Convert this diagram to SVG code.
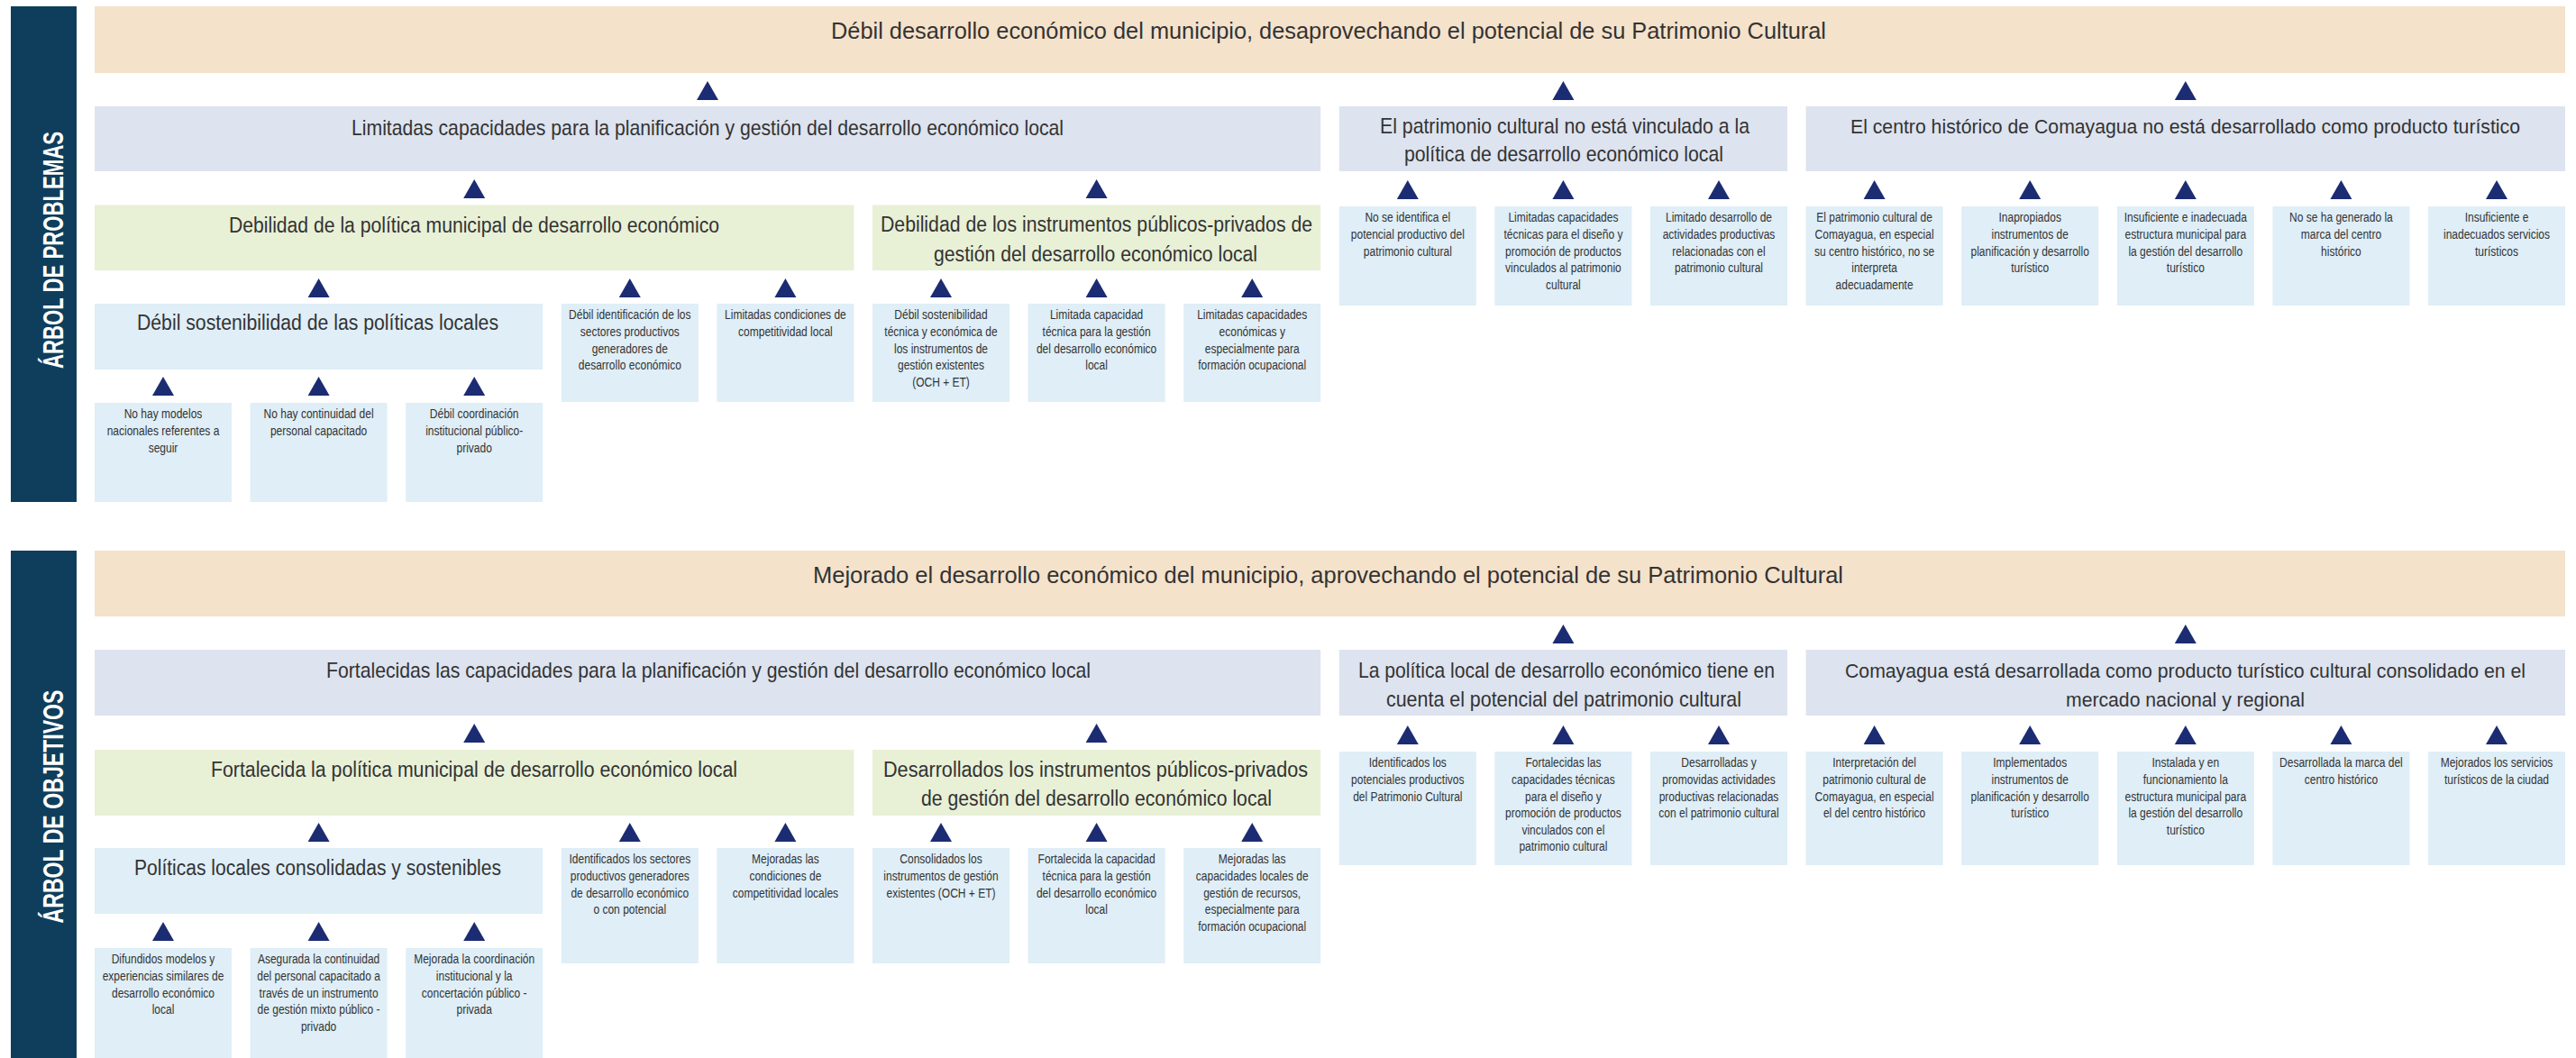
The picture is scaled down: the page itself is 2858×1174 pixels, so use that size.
<svg xmlns="http://www.w3.org/2000/svg" xmlns:xlink="http://www.w3.org/1999/xlink" width="2858" height="1174" viewBox="0 0 2858 1174">
<style>
.bar{fill:#0f3e5c}
.beige{fill:#f5e2cb}
.lav{fill:#dde3ef}
.grn{fill:#e8f0d6}
.blu{fill:#dfeef7}
.t{font-family:'Liberation Sans',Arial,sans-serif;fill:#333333;text-anchor:middle}
.big{font-size:26px}
.mid{font-size:24px}
.m3{font-size:23px}
.m2{font-size:22px}
.sm{font-family:'Liberation Sans',Arial,sans-serif;fill:#333333;font-size:15px;text-anchor:middle}
.lbl{font-family:'Liberation Sans',Arial,sans-serif;font-weight:bold;fill:#ffffff;font-size:31px;text-anchor:middle}
.arr{fill:#1c2c72}
</style>
<defs>
<path id="tri" d="M-12,21 L12,21 L0,0 Z"/>
</defs>
<rect width="2858" height="1174" fill="#ffffff"/>

<!-- ================= PROBLEMS TREE ================= -->
<g id="label-problemas">
<rect class="bar" x="12" y="7" width="73" height="550"/>
<text class="lbl" transform="translate(70,277.5) rotate(-90)" x="0" y="0" textLength="263" lengthAdjust="spacingAndGlyphs">ÁRBOL DE PROBLEMAS</text>
</g>

<g id="p-top">
<rect class="beige" x="105" y="7" width="2741" height="74"/>
<text class="t big" x="1474" y="42.5" textLength="1104" lengthAdjust="spacingAndGlyphs">Débil desarrollo económico del municipio, desaprovechando el potencial de su Patrimonio Cultural</text>
</g>

<g id="p-l2a">
<rect class="lav" x="105" y="118" width="1360.2" height="72"/>
<text class="t mid" x="785" y="150" textLength="790" lengthAdjust="spacingAndGlyphs">Limitadas capacidades para la planificación y gestión del desarrollo económico local</text>
</g>
<g id="p-l2b">
<rect class="lav" x="1485.8" y="118" width="497.2" height="72"/>
<text class="t mid" x="1736" y="148" textLength="410" lengthAdjust="spacingAndGlyphs">El patrimonio cultural no está vinculado a la</text>
<text class="t mid" x="1735" y="179" textLength="354" lengthAdjust="spacingAndGlyphs">política de desarrollo económico local</text>
</g>
<g id="p-l2c">
<rect class="lav" x="2003.6" y="118" width="842.4" height="72"/>
<text class="t m2" x="2424.5" y="148" textLength="743" lengthAdjust="spacingAndGlyphs">El centro histórico de Comayagua no está desarrollado como producto turístico</text>
</g>

<g id="p-l3a">
<rect class="grn" x="105" y="227.5" width="842.4" height="72.5"/>
<text class="t m3" x="526" y="258" textLength="544" lengthAdjust="spacingAndGlyphs">Debilidad de la política municipal de desarrollo económico</text>
</g>
<g id="p-l3b">
<rect class="grn" x="968" y="227.5" width="497.2" height="72.5"/>
<text class="t m3" x="1216.5" y="257" textLength="479" lengthAdjust="spacingAndGlyphs">Debilidad de los instrumentos públicos-privados de</text>
<text class="t m3" x="1215.5" y="290" textLength="359" lengthAdjust="spacingAndGlyphs">gestión del desarrollo económico local</text>
</g>

<g id="p-l4a">
<rect class="blu" x="105" y="337" width="497.2" height="73"/>
<text class="t m3" x="352.5" y="366" textLength="401" lengthAdjust="spacingAndGlyphs">Débil sostenibilidad de las políticas locales</text>
</g>

<g id="p-c3">
<rect class="blu" x="622.8" y="337" width="152" height="109"/>
<g transform="translate(698.8,0) scale(0.8,1)"><text class="sm"><tspan x="0" y="354.5">Débil identificación de los</tspan><tspan x="0" y="373.1">sectores productivos</tspan><tspan x="0" y="391.7">generadores de</tspan><tspan x="0" y="410.3">desarrollo económico</tspan></text></g>
</g>
<g id="p-c4">
<rect class="blu" x="795.4" y="337" width="152" height="109"/>
<g transform="translate(871.4,0) scale(0.8,1)"><text class="sm"><tspan x="0" y="354.5">Limitadas condiciones de</tspan><tspan x="0" y="373.1">competitividad local</tspan></text></g>
</g>
<g id="p-c5">
<rect class="blu" x="968" y="337" width="152" height="109"/>
<g transform="translate(1044,0) scale(0.8,1)"><text class="sm"><tspan x="0" y="354.5">Débil sostenibilidad</tspan><tspan x="0" y="373.1">técnica y económica de</tspan><tspan x="0" y="391.7">los instrumentos de</tspan><tspan x="0" y="410.3">gestión existentes</tspan><tspan x="0" y="428.9">(OCH + ET)</tspan></text></g>
</g>
<g id="p-c6">
<rect class="blu" x="1140.6" y="337" width="152" height="109"/>
<g transform="translate(1216.6,0) scale(0.8,1)"><text class="sm"><tspan x="0" y="354.5">Limitada capacidad</tspan><tspan x="0" y="373.1">técnica para la gestión</tspan><tspan x="0" y="391.7">del desarrollo económico</tspan><tspan x="0" y="410.3">local</tspan></text></g>
</g>
<g id="p-c7">
<rect class="blu" x="1313.2" y="337" width="152" height="109"/>
<g transform="translate(1389.2,0) scale(0.8,1)"><text class="sm"><tspan x="0" y="354.5">Limitadas capacidades</tspan><tspan x="0" y="373.1">económicas y</tspan><tspan x="0" y="391.7">especialmente para</tspan><tspan x="0" y="410.3">formación ocupacional</tspan></text></g>
</g>

<g id="p-c8">
<rect class="blu" x="1485.8" y="229" width="152" height="110"/>
<g transform="translate(1561.8,0) scale(0.8,1)"><text class="sm"><tspan x="0" y="246.5">No se identifica el</tspan><tspan x="0" y="265.1">potencial productivo del</tspan><tspan x="0" y="283.7">patrimonio cultural</tspan></text></g>
</g>
<g id="p-c9">
<rect class="blu" x="1658.4" y="229" width="152" height="110"/>
<g transform="translate(1734.4,0) scale(0.8,1)"><text class="sm"><tspan x="0" y="246.5">Limitadas capacidades</tspan><tspan x="0" y="265.1">técnicas para el diseño y</tspan><tspan x="0" y="283.7">promoción de productos</tspan><tspan x="0" y="302.3">vinculados al patrimonio</tspan><tspan x="0" y="320.9">cultural</tspan></text></g>
</g>
<g id="p-c10">
<rect class="blu" x="1831" y="229" width="152" height="110"/>
<g transform="translate(1907,0) scale(0.8,1)"><text class="sm"><tspan x="0" y="246.5">Limitado desarrollo de</tspan><tspan x="0" y="265.1">actividades productivas</tspan><tspan x="0" y="283.7">relacionadas con el</tspan><tspan x="0" y="302.3">patrimonio cultural</tspan></text></g>
</g>
<g id="p-c11">
<rect class="blu" x="2003.6" y="229" width="152" height="110"/>
<g transform="translate(2079.6,0) scale(0.8,1)"><text class="sm"><tspan x="0" y="246.5">El patrimonio cultural de</tspan><tspan x="0" y="265.1">Comayagua, en especial</tspan><tspan x="0" y="283.7">su centro histórico, no se</tspan><tspan x="0" y="302.3">interpreta</tspan><tspan x="0" y="320.9">adecuadamente</tspan></text></g>
</g>
<g id="p-c12">
<rect class="blu" x="2176.2" y="229" width="152" height="110"/>
<g transform="translate(2252.2,0) scale(0.8,1)"><text class="sm"><tspan x="0" y="246.5">Inapropiados</tspan><tspan x="0" y="265.1">instrumentos de</tspan><tspan x="0" y="283.7">planificación y desarrollo</tspan><tspan x="0" y="302.3">turístico</tspan></text></g>
</g>
<g id="p-c13">
<rect class="blu" x="2348.8" y="229" width="152" height="110"/>
<g transform="translate(2424.8,0) scale(0.8,1)"><text class="sm"><tspan x="0" y="246.5">Insuficiente e inadecuada</tspan><tspan x="0" y="265.1">estructura municipal para</tspan><tspan x="0" y="283.7">la gestión del desarrollo</tspan><tspan x="0" y="302.3">turístico</tspan></text></g>
</g>
<g id="p-c14">
<rect class="blu" x="2521.4" y="229" width="152" height="110"/>
<g transform="translate(2597.4,0) scale(0.8,1)"><text class="sm"><tspan x="0" y="246.5">No se ha generado la</tspan><tspan x="0" y="265.1">marca del centro</tspan><tspan x="0" y="283.7">histórico</tspan></text></g>
</g>
<g id="p-c15">
<rect class="blu" x="2694" y="229" width="152" height="110"/>
<g transform="translate(2770,0) scale(0.8,1)"><text class="sm"><tspan x="0" y="246.5">Insuficiente e</tspan><tspan x="0" y="265.1">inadecuados servicios</tspan><tspan x="0" y="283.7">turísticos</tspan></text></g>
</g>

<g id="p-c0">
<rect class="blu" x="105" y="447" width="152" height="110"/>
<g transform="translate(181,0) scale(0.8,1)"><text class="sm"><tspan x="0" y="464.5">No hay modelos</tspan><tspan x="0" y="483.1">nacionales  referentes a</tspan><tspan x="0" y="501.7">seguir</tspan></text></g>
</g>
<g id="p-c1">
<rect class="blu" x="277.6" y="447" width="152" height="110"/>
<g transform="translate(353.6,0) scale(0.8,1)"><text class="sm"><tspan x="0" y="464.5">No hay continuidad del</tspan><tspan x="0" y="483.1">personal capacitado</tspan></text></g>
</g>
<g id="p-c2">
<rect class="blu" x="450.2" y="447" width="152" height="110"/>
<g transform="translate(526.2,0) scale(0.8,1)"><text class="sm"><tspan x="0" y="464.5">Débil coordinación</tspan><tspan x="0" y="483.1">institucional público-</tspan><tspan x="0" y="501.7">privado</tspan></text></g>
</g>

<!-- ================= OBJECTIVES TREE ================= -->
<g id="label-objetivos">
<rect class="bar" x="12" y="611" width="73" height="563"/>
<text class="lbl" transform="translate(70,895) rotate(-90)" x="0" y="0" textLength="259" lengthAdjust="spacingAndGlyphs">ÁRBOL DE OBJETIVOS</text>
</g>

<g id="o-top">
<rect class="beige" x="105" y="611" width="2741" height="73"/>
<text class="t big" x="1473.5" y="646.5" textLength="1143" lengthAdjust="spacingAndGlyphs">Mejorado el desarrollo económico del municipio, aprovechando el potencial de su Patrimonio Cultural</text>
</g>

<g id="o-l2a">
<rect class="lav" x="105" y="721" width="1360.2" height="73"/>
<text class="t mid" x="786" y="752" textLength="848" lengthAdjust="spacingAndGlyphs">Fortalecidas las capacidades para la planificación y gestión del desarrollo económico local</text>
</g>
<g id="o-l2b">
<rect class="lav" x="1485.8" y="721" width="497.2" height="73"/>
<text class="t mid" x="1738" y="752" textLength="462" lengthAdjust="spacingAndGlyphs">La política local de desarrollo económico tiene en</text>
<text class="t mid" x="1735" y="784" textLength="394" lengthAdjust="spacingAndGlyphs">cuenta el potencial del patrimonio cultural</text>
</g>
<g id="o-l2c">
<rect class="lav" x="2003.6" y="721" width="842.4" height="73"/>
<text class="t m2" x="2424.5" y="752" textLength="755" lengthAdjust="spacingAndGlyphs">Comayagua está desarrollada como producto turístico cultural consolidado en el</text>
<text class="t m2" x="2424.5" y="784" textLength="265" lengthAdjust="spacingAndGlyphs">mercado nacional y regional</text>
</g>

<g id="o-l3a">
<rect class="grn" x="105" y="832" width="842.4" height="73"/>
<text class="t m3" x="526" y="862" textLength="584" lengthAdjust="spacingAndGlyphs">Fortalecida la política municipal de desarrollo económico local</text>
</g>
<g id="o-l3b">
<rect class="grn" x="968" y="832" width="497.2" height="73"/>
<text class="t m3" x="1215.5" y="862" textLength="471" lengthAdjust="spacingAndGlyphs">Desarrollados  los instrumentos públicos-privados</text>
<text class="t m3" x="1216.5" y="894" textLength="389" lengthAdjust="spacingAndGlyphs">de gestión del desarrollo económico local</text>
</g>

<g id="o-l4a">
<rect class="blu" x="105" y="941" width="497.2" height="73"/>
<text class="t m3" x="352.5" y="971" textLength="407" lengthAdjust="spacingAndGlyphs">Políticas locales consolidadas y sostenibles</text>
</g>

<g id="o-c3">
<rect class="blu" x="622.8" y="941" width="152" height="128"/>
<g transform="translate(698.8,0) scale(0.8,1)"><text class="sm"><tspan x="0" y="958.5">Identificados los sectores</tspan><tspan x="0" y="977.1">productivos generadores</tspan><tspan x="0" y="995.7">de desarrollo económico</tspan><tspan x="0" y="1014.3">o con potencial</tspan></text></g>
</g>
<g id="o-c4">
<rect class="blu" x="795.4" y="941" width="152" height="128"/>
<g transform="translate(871.4,0) scale(0.8,1)"><text class="sm"><tspan x="0" y="958.5">Mejoradas las</tspan><tspan x="0" y="977.1">condiciones de</tspan><tspan x="0" y="995.7">competitividad locales</tspan></text></g>
</g>
<g id="o-c5">
<rect class="blu" x="968" y="941" width="152" height="128"/>
<g transform="translate(1044,0) scale(0.8,1)"><text class="sm"><tspan x="0" y="958.5">Consolidados los</tspan><tspan x="0" y="977.1">instrumentos de gestión</tspan><tspan x="0" y="995.7">existentes (OCH + ET)</tspan></text></g>
</g>
<g id="o-c6">
<rect class="blu" x="1140.6" y="941" width="152" height="128"/>
<g transform="translate(1216.6,0) scale(0.8,1)"><text class="sm"><tspan x="0" y="958.5">Fortalecida la  capacidad</tspan><tspan x="0" y="977.1">técnica para la gestión</tspan><tspan x="0" y="995.7">del desarrollo económico</tspan><tspan x="0" y="1014.3">local</tspan></text></g>
</g>
<g id="o-c7">
<rect class="blu" x="1313.2" y="941" width="152" height="128"/>
<g transform="translate(1389.2,0) scale(0.8,1)"><text class="sm"><tspan x="0" y="958.5">Mejoradas las</tspan><tspan x="0" y="977.1">capacidades locales de</tspan><tspan x="0" y="995.7">gestión de recursos,</tspan><tspan x="0" y="1014.3">especialmente para</tspan><tspan x="0" y="1032.9">formación ocupacional</tspan></text></g>
</g>

<g id="o-c8">
<rect class="blu" x="1485.8" y="834" width="152" height="126"/>
<g transform="translate(1561.8,0) scale(0.8,1)"><text class="sm"><tspan x="0" y="851.5">Identificados los</tspan><tspan x="0" y="870.1">potenciales productivos</tspan><tspan x="0" y="888.7">del Patrimonio Cultural</tspan></text></g>
</g>
<g id="o-c9">
<rect class="blu" x="1658.4" y="834" width="152" height="126"/>
<g transform="translate(1734.4,0) scale(0.8,1)"><text class="sm"><tspan x="0" y="851.5">Fortalecidas las</tspan><tspan x="0" y="870.1">capacidades técnicas</tspan><tspan x="0" y="888.7">para el diseño y</tspan><tspan x="0" y="907.3">promoción de productos</tspan><tspan x="0" y="925.9">vinculados con el</tspan><tspan x="0" y="944.5">patrimonio cultural</tspan></text></g>
</g>
<g id="o-c10">
<rect class="blu" x="1831" y="834" width="152" height="126"/>
<g transform="translate(1907,0) scale(0.8,1)"><text class="sm"><tspan x="0" y="851.5">Desarrolladas y</tspan><tspan x="0" y="870.1">promovidas actividades</tspan><tspan x="0" y="888.7">productivas relacionadas</tspan><tspan x="0" y="907.3">con el patrimonio cultural</tspan></text></g>
</g>
<g id="o-c11">
<rect class="blu" x="2003.6" y="834" width="152" height="126"/>
<g transform="translate(2079.6,0) scale(0.8,1)"><text class="sm"><tspan x="0" y="851.5">Interpretación del</tspan><tspan x="0" y="870.1">patrimonio cultural de</tspan><tspan x="0" y="888.7">Comayagua, en especial</tspan><tspan x="0" y="907.3">el del centro histórico</tspan></text></g>
</g>
<g id="o-c12">
<rect class="blu" x="2176.2" y="834" width="152" height="126"/>
<g transform="translate(2252.2,0) scale(0.8,1)"><text class="sm"><tspan x="0" y="851.5">Implementados</tspan><tspan x="0" y="870.1">instrumentos de</tspan><tspan x="0" y="888.7">planificación y desarrollo</tspan><tspan x="0" y="907.3">turístico</tspan></text></g>
</g>
<g id="o-c13">
<rect class="blu" x="2348.8" y="834" width="152" height="126"/>
<g transform="translate(2424.8,0) scale(0.8,1)"><text class="sm"><tspan x="0" y="851.5">Instalada y en</tspan><tspan x="0" y="870.1">funcionamiento la</tspan><tspan x="0" y="888.7">estructura municipal para</tspan><tspan x="0" y="907.3">la gestión del desarrollo</tspan><tspan x="0" y="925.9">turístico</tspan></text></g>
</g>
<g id="o-c14">
<rect class="blu" x="2521.4" y="834" width="152" height="126"/>
<g transform="translate(2597.4,0) scale(0.8,1)"><text class="sm"><tspan x="0" y="851.5">Desarrollada la marca del</tspan><tspan x="0" y="870.1">centro histórico</tspan></text></g>
</g>
<g id="o-c15">
<rect class="blu" x="2694" y="834" width="152" height="126"/>
<g transform="translate(2770,0) scale(0.8,1)"><text class="sm"><tspan x="0" y="851.5">Mejorados los servicios</tspan><tspan x="0" y="870.1">turísticos de la ciudad</tspan></text></g>
</g>

<g id="o-c0">
<rect class="blu" x="105" y="1052" width="152" height="122"/>
<g transform="translate(181,0) scale(0.8,1)"><text class="sm"><tspan x="0" y="1069.5">Difundidos modelos y</tspan><tspan x="0" y="1088.1">experiencias similares de</tspan><tspan x="0" y="1106.7">desarrollo económico</tspan><tspan x="0" y="1125.3">local</tspan></text></g>
</g>
<g id="o-c1">
<rect class="blu" x="277.6" y="1052" width="152" height="122"/>
<g transform="translate(353.6,0) scale(0.8,1)"><text class="sm"><tspan x="0" y="1069.5">Asegurada la continuidad</tspan><tspan x="0" y="1088.1">del personal capacitado a</tspan><tspan x="0" y="1106.7">través de un instrumento</tspan><tspan x="0" y="1125.3">de gestión mixto público -</tspan><tspan x="0" y="1143.9">privado</tspan></text></g>
</g>
<g id="o-c2">
<rect class="blu" x="450.2" y="1052" width="152" height="122"/>
<g transform="translate(526.2,0) scale(0.8,1)"><text class="sm"><tspan x="0" y="1069.5">Mejorada la coordinación</tspan><tspan x="0" y="1088.1">institucional y la</tspan><tspan x="0" y="1106.7">concertación público -</tspan><tspan x="0" y="1125.3">privada</tspan></text></g>
</g>

<!-- ================= CONNECTORS ================= -->
<g id="connectors" class="arr">
<use xlink:href="#tri" x="785" y="90"/>
<use xlink:href="#tri" x="1734.4" y="90"/>
<use xlink:href="#tri" x="2424.8" y="90"/>
<use xlink:href="#tri" x="526.2" y="199"/>
<use xlink:href="#tri" x="1216.6" y="199"/>
<use xlink:href="#tri" x="1561.8" y="200"/>
<use xlink:href="#tri" x="1734.4" y="200"/>
<use xlink:href="#tri" x="1907" y="200"/>
<use xlink:href="#tri" x="2079.6" y="200"/>
<use xlink:href="#tri" x="2252.2" y="200"/>
<use xlink:href="#tri" x="2424.8" y="200"/>
<use xlink:href="#tri" x="2597.4" y="200"/>
<use xlink:href="#tri" x="2770" y="200"/>
<use xlink:href="#tri" x="353.6" y="309"/>
<use xlink:href="#tri" x="698.8" y="309"/>
<use xlink:href="#tri" x="871.4" y="309"/>
<use xlink:href="#tri" x="1044" y="309"/>
<use xlink:href="#tri" x="1216.6" y="309"/>
<use xlink:href="#tri" x="1389.2" y="309"/>
<use xlink:href="#tri" x="181" y="418"/>
<use xlink:href="#tri" x="353.6" y="418"/>
<use xlink:href="#tri" x="526.2" y="418"/>
<use xlink:href="#tri" x="1734.4" y="693"/>
<use xlink:href="#tri" x="2424.8" y="693"/>
<use xlink:href="#tri" x="526.2" y="803"/>
<use xlink:href="#tri" x="1216.6" y="803"/>
<use xlink:href="#tri" x="1561.8" y="805"/>
<use xlink:href="#tri" x="1734.4" y="805"/>
<use xlink:href="#tri" x="1907" y="805"/>
<use xlink:href="#tri" x="2079.6" y="805"/>
<use xlink:href="#tri" x="2252.2" y="805"/>
<use xlink:href="#tri" x="2424.8" y="805"/>
<use xlink:href="#tri" x="2597.4" y="805"/>
<use xlink:href="#tri" x="2770" y="805"/>
<use xlink:href="#tri" x="353.6" y="913"/>
<use xlink:href="#tri" x="698.8" y="913"/>
<use xlink:href="#tri" x="871.4" y="913"/>
<use xlink:href="#tri" x="1044" y="913"/>
<use xlink:href="#tri" x="1216.6" y="913"/>
<use xlink:href="#tri" x="1389.2" y="913"/>
<use xlink:href="#tri" x="181" y="1023"/>
<use xlink:href="#tri" x="353.6" y="1023"/>
<use xlink:href="#tri" x="526.2" y="1023"/>
</g>
</svg>
